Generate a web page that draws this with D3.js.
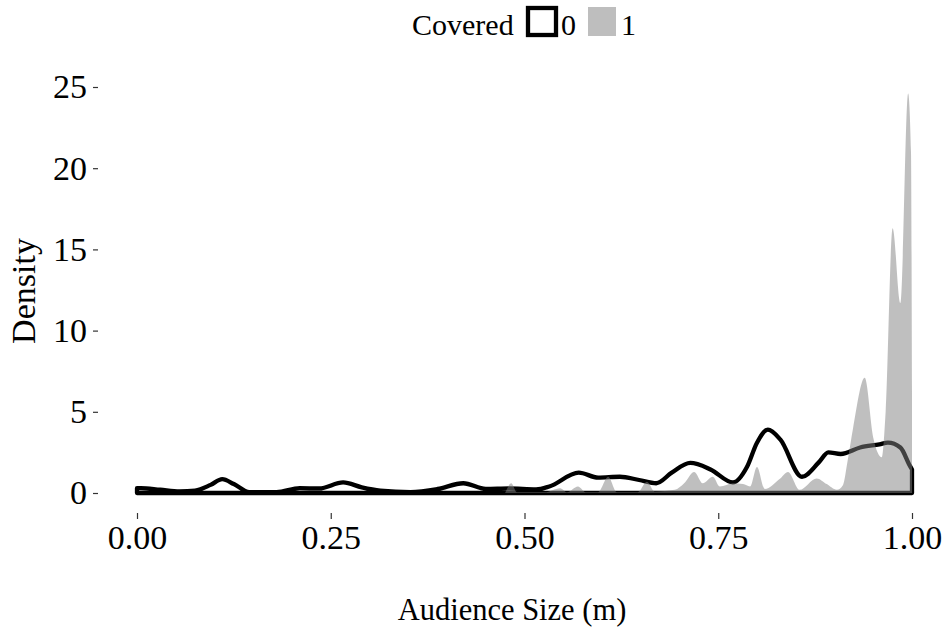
<!DOCTYPE html>
<html>
<head>
<meta charset="utf-8">
<script src="https://cdn.jsdelivr.net/npm/d3@7"></script>
<style>
  body { margin: 0; background: #fff; }
  text { font-family: "Liberation Serif", "Times New Roman", serif; fill: #000; }
</style>
</head>
<body>
<div id="chart"></div>
<script>
// density curve, Covered = 0 (outline only)
let xs0 = [0.000, 0.005, 0.03, 0.055, 0.075, 0.095, 0.11, 0.125, 0.145, 0.18, 0.21, 0.235, 0.266, 0.29,
           0.314, 0.353, 0.388, 0.421, 0.45, 0.48, 0.515, 0.532, 0.57, 0.595, 0.623, 0.648, 0.67, 0.69,
           0.714, 0.74, 0.769, 0.787, 0.80, 0.814, 0.83, 0.858, 0.88, 0.892, 0.908, 0.933, 0.958, 0.969,
           0.985, 0.997, 1.000]
let ds0 = [0.30, 0.30, 0.20, 0.10, 0.15, 0.50, 0.85, 0.55, 0.05, 0.05, 0.30, 0.28, 0.65, 0.35,
           0.15, 0.06, 0.25, 0.60, 0.25, 0.28, 0.22, 0.40, 1.25, 0.95, 1.00, 0.80, 0.60, 1.25,
           1.85, 1.45, 0.65, 1.60, 3.10, 3.90, 3.30, 1.00, 1.90, 2.50, 2.40, 2.80, 3.00, 3.10,
           2.80, 1.70, 1.45]

// density curve, Covered = 1 (filled grey)
let xs1 = [0.475, 0.483, 0.490, 0.526, 0.546, 0.555, 0.569, 0.579, 0.595, 0.608, 0.619, 0.646, 0.658,
           0.668, 0.694, 0.706, 0.719, 0.730, 0.743, 0.752, 0.769, 0.782, 0.791, 0.800, 0.810, 0.830,
           0.840, 0.855, 0.877, 0.890, 0.903, 0.911, 0.917, 0.924, 0.939, 0.950, 0.961, 0.966, 0.975,
           0.985, 0.995, 0.9987, 1.000]
let ds1 = [0.00, 0.60, 0.05, 0.05, 0.30, 0.05, 0.40, 0.05, 0.05, 1.00, 0.05, 0.05, 0.70,
           0.10, 0.20, 0.60, 1.30, 0.60, 1.00, 0.40, 0.60, 0.55, 0.40, 1.60, 0.25, 0.90,
           1.30, 0.20, 0.90, 0.55, 0.20, 0.50, 2.00, 4.00, 7.10, 3.40, 2.20, 5.00, 16.3,
           11.7, 24.6, 21.0, 6.0]

let xTicks = [0, 0.25, 0.5, 0.75, 1]
let yTicks = [0, 5, 10, 15, 20, 25]
let groups = ["0", "1"]

let width = 948, height = 631

let svg = d3.select("#chart").append("svg")
    .attr("width", width)
    .attr("height", height)

let x = d3.scaleLinear().domain([0, 1]).range([137, 912])
let y = d3.scaleLinear().domain([0, 25]).range([493, 87])

// y axis
let yAxis = svg.append("g")
    .attr("transform", "translate(98,0)")
    .call(d3.axisLeft(y).tickValues(yTicks).tickSize(5).tickPadding(6))
yAxis.select(".domain").remove()
yAxis.selectAll("line").attr("stroke", "#333").attr("stroke-width", 1.2)
yAxis.selectAll("text")
    .attr("font-family", "Liberation Serif")
    .attr("font-size", 34)
    .attr("fill", "#000")

// x axis
let xAxis = svg.append("g")
    .attr("transform", "translate(0,513)")
    .call(d3.axisBottom(x).tickValues(xTicks).tickSize(6).tickFormat(d3.format(".2f")))
xAxis.select(".domain").remove()
xAxis.selectAll("line").attr("stroke", "#333").attr("stroke-width", 1.2)
xAxis.selectAll("text")
    .attr("font-family", "Liberation Serif")
    .attr("font-size", 34)
    .attr("fill", "#000")
    .attr("dy", null)
    .attr("y", 36)

// density areas
let area = d3.area()
    .x(d => x(d[0]))
    .y0(y(0))
    .y1(d => y(d[1]))
    .curve(d3.curveMonotoneX)

svg.append("path")
    .datum(d3.zip(xs0, ds0))
    .attr("d", area)
    .attr("fill", "none")
    .attr("stroke", "#000")
    .attr("stroke-width", 4.3)
    .attr("stroke-linejoin", "round")

svg.append("path")
    .datum(d3.zip(xs1, ds1))
    .attr("d", area)
    .attr("fill", "#7f7f7f")
    .attr("fill-opacity", 0.5)

// axis titles
svg.append("text")
    .attr("x", 512)
    .attr("y", 620)
    .attr("text-anchor", "middle")
    .attr("font-size", 30.5)
    .text("Audience Size (m)")

svg.append("text")
    .attr("transform", "translate(35,291) rotate(-90)")
    .attr("text-anchor", "middle")
    .attr("font-size", 34)
    .text("Density")

// legend
let legend = svg.append("g").attr("class", "legend")
legend.append("text")
    .attr("x", 412)
    .attr("y", 35)
    .attr("font-size", 30)
    .text("Covered")

legend.append("rect")
    .attr("x", 528).attr("y", 8)
    .attr("width", 28).attr("height", 27)
    .attr("fill", "#fff")
    .attr("stroke", "#000")
    .attr("stroke-width", 4.3)

legend.append("text")
    .attr("x", 561).attr("y", 35)
    .attr("font-size", 30)
    .text(groups[0])

legend.append("rect")
    .attr("x", 588).attr("y", 7)
    .attr("width", 28).attr("height", 29)
    .attr("fill", "#bebebe")

legend.append("text")
    .attr("x", 621).attr("y", 35)
    .attr("font-size", 30)
    .text(groups[1])
</script>
</body>
</html>
